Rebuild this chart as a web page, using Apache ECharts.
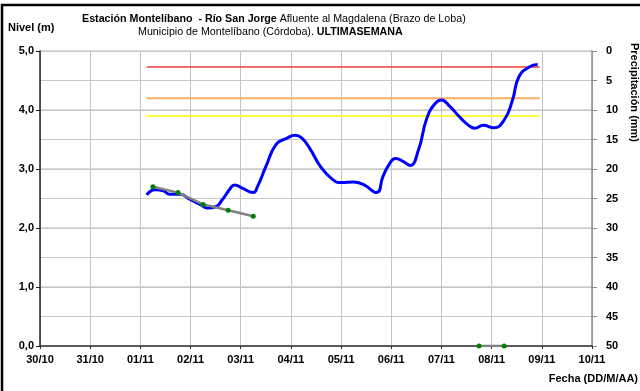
<!DOCTYPE html>
<html>
<head>
<meta charset="utf-8">
<script src="https://cdn.jsdelivr.net/npm/echarts@6/dist/echarts.min.js"></script>
<style>
  html, body { margin: 0; padding: 0; background: #fff; }
  #chart { width: 640px; height: 391px; }
</style>
</head>
<body>
<div id="chart"></div>
<script>
// Day labels on the time axis (one per day, from 30/10 to 10/11)
const dayLabels = ['30/10', '31/10', '01/11', '02/11', '03/11', '04/11', '05/11', '06/11', '07/11', '08/11', '09/11', '10/11'];

// Automatic gauge readings (DD/MM hh:mm) and river level (m)
const gaugeTimes = [
  '01/11 03:00', '01/11 07:00', '01/11 11:00', '01/11 14:00', '01/11 19:00',
  '02/11 00:00', '02/11 05:00', '02/11 08:00', '02/11 12:00', '02/11 15:00', '02/11 19:00', '02/11 21:00',
  '03/11 01:00', '03/11 06:00', '03/11 08:00', '03/11 12:00', '03/11 17:00', '03/11 22:00',
  '04/11 02:00', '04/11 05:00', '04/11 09:00', '04/11 14:00', '04/11 20:00',
  '05/11 00:00', '05/11 06:00', '05/11 11:00', '05/11 17:00', '05/11 20:00', '05/11 23:00',
  '06/11 02:00', '06/11 06:00', '06/11 09:00', '06/11 13:00', '06/11 17:00', '06/11 21:00',
  '07/11 00:00', '07/11 04:00', '07/11 09:00', '07/11 13:00', '07/11 16:00', '07/11 20:00',
  '08/11 01:00', '08/11 06:00', '08/11 10:00', '08/11 13:00', '08/11 18:00', '08/11 22:00'
];
const gaugeLevels = [
  2.56, 2.65, 2.63, 2.57, 2.57,
  2.48, 2.39, 2.34, 2.36, 2.47, 2.67, 2.73,
  2.67, 2.60, 2.70, 3.04, 3.42, 3.52,
  3.57, 3.53, 3.35, 3.05, 2.82,
  2.77, 2.78, 2.73, 2.60, 2.87, 3.08,
  3.18, 3.12, 3.06, 3.32, 3.86, 4.11,
  4.17, 4.06, 3.87, 3.74, 3.69, 3.74,
  3.70, 3.83, 4.17, 4.56, 4.73, 4.77
];

// Staff readings at 06:00 and 18:00 (null = break in the line)
const staffTimes = ['01/11 06:00', '01/11 18:00', '02/11 06:00', '02/11 18:00', '03/11 06:00', '05/11 12:00', '07/11 18:00', '08/11 06:00'];
const staffLevels = [2.70, 2.60, 2.40, 2.30, 2.20, null, 0.0, 0.0];

// Alert thresholds (m): red, orange, yellow
const alertNames = ['Alerta roja', 'Alerta naranja', 'Alerta amarilla'];
const alertLevels = [4.73, 4.20, 3.90];
const alertSpan = ['01/11 03:00', '08/11 23:00'];

// Axis ranges
const levelTicks = { min: 0, max: 5, interval: 1 };
const rainTicks = { min: 0, max: 50, interval: 5 };

// "DD/MM hh:mm" -> days since 30/10 00:00
function dayOffset(s) {
  const [date, time] = s.split(' ');
  const [d, m] = date.split('/').map(Number);
  const [hh, mm] = time.split(':').map(Number);
  const base = m === 10 ? d - 30 : d + 1;
  return base + (hh + mm / 60) / 24;
}

const gaugeData = gaugeTimes.map((t, i) => [dayOffset(t), gaugeLevels[i]]);
const staffData = staffTimes.map((t, i) => [dayOffset(t), staffLevels[i]]);
const alertColors = ['#f03c3c', '#f2b066', '#ffff40'];
const alertWidths = [1.5, 2, 2];

const FONT = 'Liberation Sans, Arial, sans-serif';
const chart = echarts.init(document.getElementById('chart'), null, { renderer: 'canvas' });

const alertSeries = alertLevels.map((lv, i) => ({
  name: alertNames[i],
  type: 'line',
  yAxisIndex: 0,
  data: alertSpan.map(t => [dayOffset(t), lv]),
  symbol: 'none',
  lineStyle: { color: alertColors[i], width: alertWidths[i] },
  silent: true,
  z: 2
}));

const titleRich = {
  b: { fontFamily: FONT, fontWeight: 'bold', fontSize: 10.7, color: '#000' },
  n: { fontFamily: FONT, fontWeight: 'normal', fontSize: 10.7, color: '#000' }
};

chart.setOption({
  animation: false,
  backgroundColor: '#fff',
  textStyle: { fontFamily: FONT },
  title: [
    {
      left: 82, top: 14, padding: 0,
      text: '{b|Estación Montelíbano  - Río San Jorge}{n| Afluente al Magdalena (Brazo de Loba)}',
      textStyle: { rich: titleRich }
    },
    {
      left: 138, top: 27, padding: 0,
      text: '{n|Municipio de Montelíbano (Córdoba). }{b|ULTIMASEMANA}',
      textStyle: { rich: titleRich }
    }
  ],
  grid: { left: 40, right: 48, top: 51, bottom: 45, containLabel: false },
  xAxis: {
    type: 'value',
    min: 0, max: dayLabels.length - 1, interval: 1,
    axisLine: { lineStyle: { color: '#333', width: 1.5 } },
    axisTick: { show: true, length: 3, lineStyle: { color: '#333' } },
    axisLabel: {
      margin: 8,
      fontFamily: FONT, fontWeight: 'bold', fontSize: 11, color: '#000',
      formatter: v => dayLabels[Math.round(v)] || ''
    },
    splitLine: { show: true, lineStyle: { color: '#c4c4c4', width: 1 } }
  },
  yAxis: [
    {
      type: 'value',
      min: levelTicks.min, max: levelTicks.max, interval: levelTicks.interval,
      position: 'left',
      axisLine: { show: true, lineStyle: { color: '#222', width: 1.5 } },
      axisTick: { show: true, length: 4, inside: false, lineStyle: { color: '#222' } },
      axisLabel: {
        margin: 6,
        fontFamily: FONT, fontWeight: 'bold', fontSize: 11, color: '#000',
        formatter: v => v.toFixed(1).replace('.', ',')
      },
      splitLine: { show: true, lineStyle: { color: '#dadada', width: 2 } }
    },
    {
      type: 'value',
      min: rainTicks.min, max: rainTicks.max, interval: rainTicks.interval,
      inverse: true,
      position: 'right',
      axisLine: { show: true, lineStyle: { color: '#8c8c8c', width: 1.5 } },
      axisTick: { show: true, length: 5, inside: false, lineStyle: { color: '#8c8c8c' } },
      axisLabel: {
        margin: 14,
        fontFamily: FONT, fontWeight: 'bold', fontSize: 11, color: '#000'
      },
      splitLine: { show: true, lineStyle: { color: '#c8c8c8', width: 1 } }
    }
  ],
  graphic: [
    {
      type: 'rect', silent: true, z: 100,
      shape: { x: 2, y: 5, width: 700, height: 450 },
      style: { fill: 'none', stroke: '#000', lineWidth: 2.5 }
    },
    {
      type: 'text', left: 8, top: 22, silent: true,
      style: { text: 'Nivel (m)', font: 'bold 11px ' + FONT, fill: '#000' }
    },
    {
      type: 'text', silent: true,
      x: 634, y: 43, rotation: -Math.PI / 2,
      style: { text: 'Precipitación (mm)', font: 'bold 11px ' + FONT, fill: '#000', textAlign: 'left', textVerticalAlign: 'middle' }
    },
    {
      type: 'text', right: 2, top: 373, silent: true,
      style: { text: 'Fecha (DD/M/AA)', font: 'bold 11px ' + FONT, fill: '#000' }
    }
  ],
  series: [
    ...alertSeries,
    {
      name: 'Nivel',
      type: 'line',
      yAxisIndex: 0,
      data: gaugeData,
      smooth: 0.5,
      symbol: 'none',
      lineStyle: { color: '#0000ff', width: 3 },
      z: 3
    },
    {
      name: 'Lectura mira',
      type: 'line',
      yAxisIndex: 0,
      data: staffData,
      connectNulls: false,
      symbol: 'circle',
      symbolSize: 5,
      showSymbol: true,
      itemStyle: { color: '#008000' },
      lineStyle: { color: '#808080', width: 2.5 },
      z: 4
    }
  ]
});
</script>
</body>
</html>
